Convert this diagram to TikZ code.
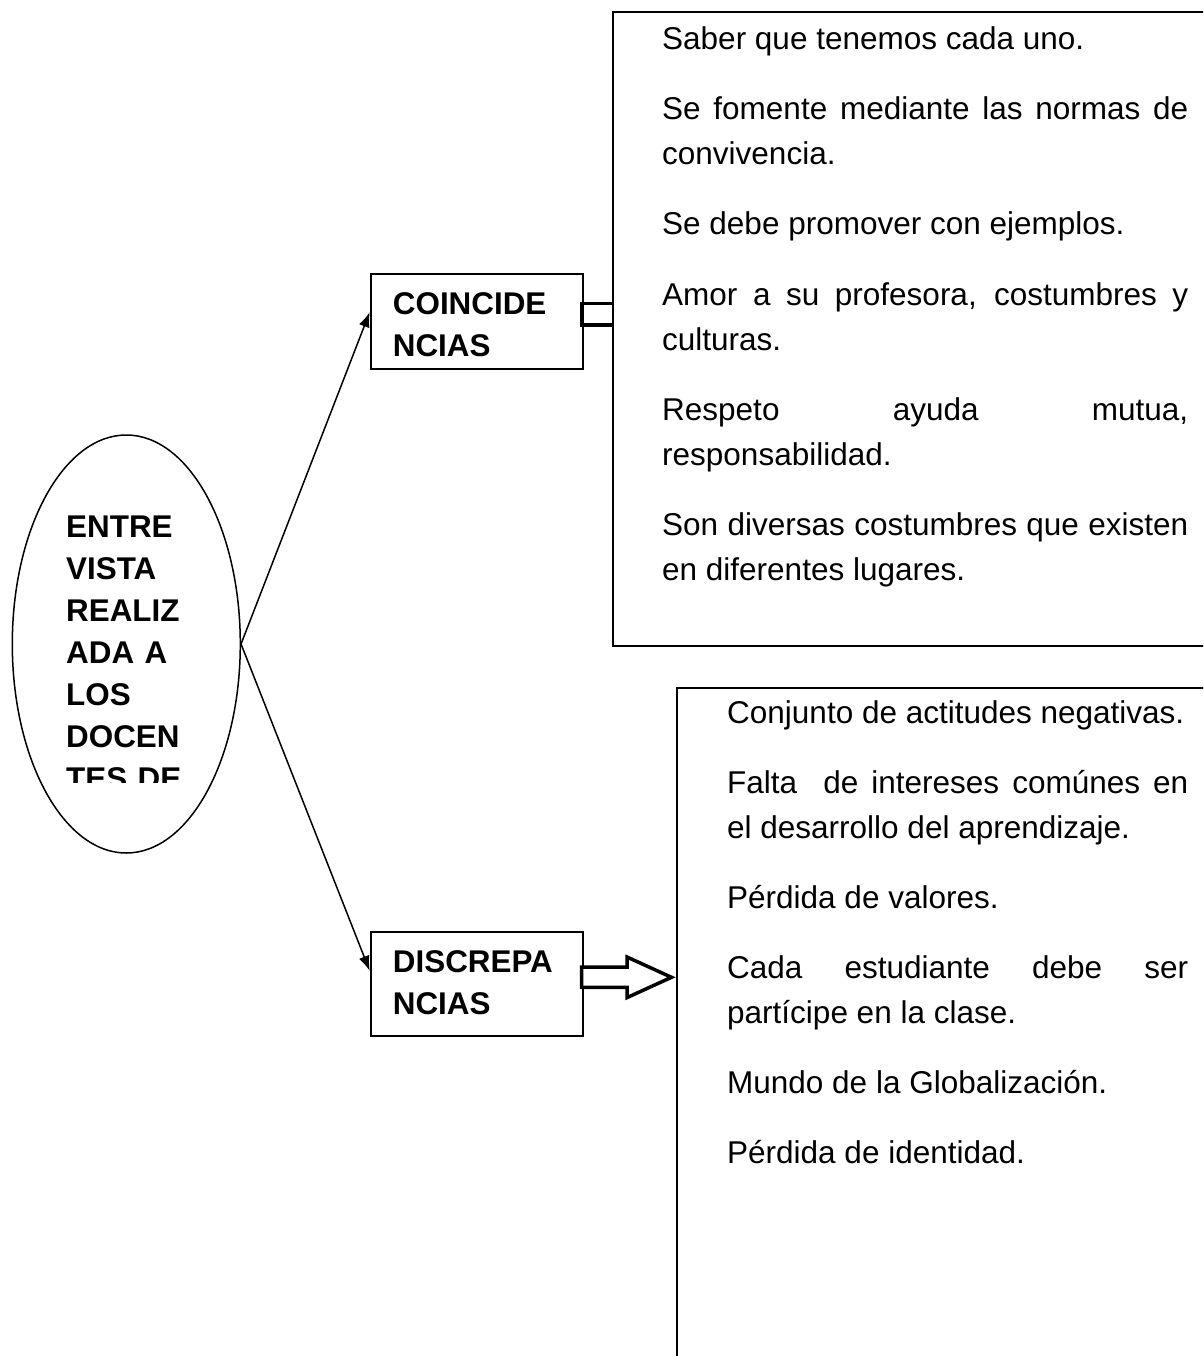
\documentclass[tikz,border=0pt]{standalone}
\usepackage{fontspec}
\setmainfont{Liberation Sans}
\usetikzlibrary{shapes.geometric,arrows.meta}
\begin{document}
\begin{tikzpicture}[x=1pt,y=-1pt,
  body/.style={anchor=base west, inner sep=0pt, align=justify, font=\fontsize{31.5}{45}\selectfont},
  boldtxt/.style={anchor=base west, inner sep=0pt, align=left, text width=180pt, font=\bfseries\fontsize{31.4}{42}\selectfont},
  frame/.style={draw, line width=2pt, fill=white, inner sep=0pt},
  conn/.style={line width=1.5pt, -{Latex[length=15pt,width=11pt]}},
  block/.style={draw, line width=3.5pt, line join=miter, fill=white}
]
\useasboundingbox (0,0) rectangle (1203,1356);
\clip (0,0) rectangle (1203,1356);
\fill[white] (0,0) rectangle (1203,1356);

% central ellipse
\node[ellipse, draw, line width=1.5pt, minimum width=228pt, minimum height=418pt, inner sep=0pt] (ell) at (126.3,644) {};
\begin{scope}
  \clip (40,490) rectangle (230,782);
  \node[boldtxt, text width=160pt] (elltxt) at (66,537) {ENTRE\\VISTA\\REALIZ\\ADA A\\LOS\\DOCEN\\TES DE};
\end{scope}

% two category boxes
\node[frame, minimum width=212.3pt, minimum height=95pt] (coin) at (476.85,321.5) {};
\node[boldtxt] (cointxt) at (392.7,314) {COINCIDE\\NCIAS};
\node[frame, minimum width=212.3pt, minimum height=104pt] (disc) at (476.85,984) {};
\node[boldtxt] (disctxt) at (392.7,972) {DISCREPA\\NCIAS};

% connectors
\draw[conn] (ell.east) -- (coin.175.4);
\draw[conn] (ell.east) -- (disc.173.5);

% block arrow shaft to the top box (head hidden by the box)
\draw[block] (582,303.3) rectangle (618,325);

% right text boxes
\node[frame, anchor=north west, minimum width=640pt, minimum height=634pt] (topbox) at (612,11) {};
\node[frame, anchor=north west, minimum width=600pt, minimum height=720pt] (botbox) at (676,686.5) {};

% block arrow to the bottom box
\draw[block] (581.7,967) -- (627,967) -- (627,957) -- (671.5,977.3) -- (627,997.6) -- (627,987.3) -- (581.7,987.3) -- cycle;

% top box text
\node[body, text width=526pt] (c1) at (662,50) {Saber que tenemos cada uno.};
\node[body, text width=526pt] (c2) at (662,120) {Se fomente mediante las normas de\linebreak convivencia.};
\node[body, text width=526pt] (c3) at (662,235) {Se debe promover con ejemplos.};
\node[body, text width=526pt] (c4) at (662,305) {Amor a su profesora, costumbres y\linebreak culturas.};
\node[body, text width=526pt] (c5) at (662,420) {Respeto ayuda mutua,\linebreak responsabilidad.};
\node[body, text width=526pt] (c6) at (662,535) {Son diversas costumbres que existen\linebreak en diferentes lugares.};

% bottom box text
\node[body, text width=461pt] (d1) at (727,723) {Conjunto de actitudes negativas.};
\node[body, text width=461pt] (d2) at (727,793) {Falta\ \ de intereses comúnes en\linebreak el desarrollo del aprendizaje.};
\node[body, text width=461pt] (d3) at (727,908) {Pérdida de valores.};
\node[body, text width=461pt] (d4) at (727,978) {Cada estudiante debe ser\linebreak partícipe en la clase.};
\node[body, text width=461pt] (d5) at (727,1093) {Mundo de la Globalización.};
\node[body, text width=461pt] (d6) at (727,1163) {Pérdida de identidad.};
\end{tikzpicture}
\end{document}
